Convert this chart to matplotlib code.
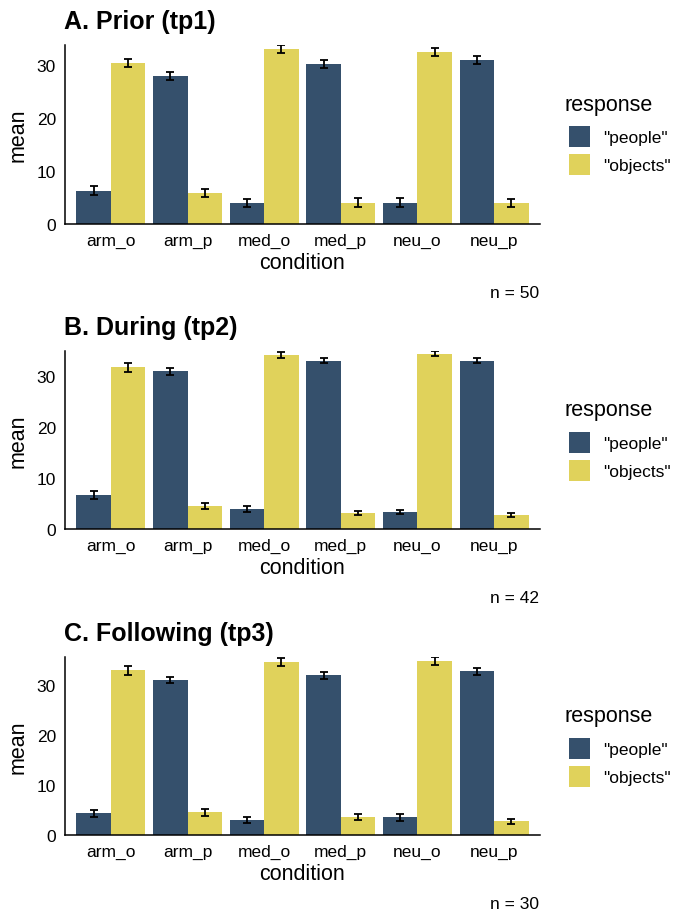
import matplotlib
matplotlib.use("Agg")
import matplotlib.pyplot as plt
from matplotlib.patches import Rectangle
import numpy as np

plt.rcParams['font.family'] = ['Liberation Sans', 'DejaVu Sans']

conditions = ["arm_o", "arm_p", "med_o", "med_p", "neu_o", "neu_p"]
responses = ['"people"', '"objects"']
colors = ["#35506C", "#E0D25B"]

titles = ["A. Prior (tp1)", "B. During (tp2)", "C. Following (tp3)"]
n_labels = ["n = 50", "n = 42", "n = 30"]

# tp1
tp1_people = [6.3, 28.0, 4.0, 30.2, 4.0, 31.0]
tp1_people_se = [0.9, 0.8, 0.8, 0.72, 0.85, 0.7]
tp1_objects = [30.4, 5.9, 33.1, 4.0, 32.5, 4.0]
tp1_objects_se = [0.75, 0.8, 0.72, 0.85, 0.72, 0.75]
# tp2
tp2_people = [6.6, 30.8, 3.9, 32.9, 3.3, 32.9]
tp2_people_se = [0.8, 0.7, 0.55, 0.5, 0.4, 0.45]
tp2_objects = [31.6, 4.5, 34.1, 3.1, 34.3, 2.7]
tp2_objects_se = [0.9, 0.5, 0.6, 0.4, 0.5, 0.4]
# tp3
tp3_people = [4.4, 31.0, 3.0, 32.0, 3.6, 32.8]
tp3_people_se = [0.7, 0.6, 0.65, 0.7, 0.7, 0.7]
tp3_objects = [33.0, 4.6, 34.6, 3.6, 34.8, 2.8]
tp3_objects_se = [0.9, 0.7, 0.8, 0.6, 0.8, 0.5]

panels = [
    (tp1_people, tp1_people_se, tp1_objects, tp1_objects_se),
    (tp2_people, tp2_people_se, tp2_objects, tp2_objects_se),
    (tp3_people, tp3_people_se, tp3_objects, tp3_objects_se),
]

W, H = 673, 912
fig = plt.figure(figsize=(W / 100, H / 100), dpi=100)

# axes boxes in pixels: (left, top, right, bottom)
boxes = [(65, 46, 540, 225), (65, 352, 540, 530), (65, 658, 540, 836)]

def fx(px):
    return px / W

def fy(py):
    return 1 - py / H

x = np.arange(1, len(conditions) + 1)
bw = 0.45

for i, (box, data) in enumerate(zip(boxes, panels)):
    l, t, r, b = box
    ax = fig.add_axes([fx(l), fy(b), fx(r) - fx(l), fy(t) - fy(b)])
    p, pse, o, ose = data
    ax.bar(x - bw / 2, p, width=bw, color=colors[0], label=responses[0], zorder=2)
    ax.bar(x + bw / 2, o, width=bw, color=colors[1], label=responses[1], zorder=2)
    ax.errorbar(x - bw / 2, p, yerr=pse, fmt="none", ecolor="black",
                elinewidth=1.3, capsize=2.8, capthick=1.3, zorder=3)
    ax.errorbar(x + bw / 2, o, yerr=ose, fmt="none", ecolor="black",
                elinewidth=1.3, capsize=2.8, capthick=1.3, zorder=3)
    ymax = max(max(np.array(p) + np.array(pse)), max(np.array(o) + np.array(ose)))
    ax.set_ylim(0, ymax)
    ax.set_xlim(0.4, 6.6)
    ax.set_xticks(x)
    ax.set_xticklabels(conditions)
    ax.set_yticks([0, 10, 20, 30])
    ax.tick_params(length=0, labelsize=12.5, colors="black")
    ax.tick_params(axis="x", pad=6.5)
    ax.tick_params(axis="y", pad=6.5)
    for s in ["top", "right"]:
        ax.spines[s].set_visible(False)
    for s in ["left", "bottom"]:
        ax.spines[s].set_linewidth(1.1)
        ax.spines[s].set_color("black")
    ax.set_xlabel("condition", fontsize=15.5, labelpad=3)
    ax.set_ylabel("mean", fontsize=15.5, labelpad=5.5)

    fig.text(fx(64), fy(t - 16.5), titles[i], fontsize=18, fontweight="bold",
             ha="left", va="baseline")
    fig.text(fx(539.5), fy(b + 73), n_labels[i], fontsize=12.5, ha="right",
             va="baseline")

    # legend (drawn in figure coordinates)
    fig.text(fx(565), fy(t + 64.5), "response", fontsize=15.5, ha="left",
             va="baseline")
    for k, (lab, col) in enumerate(zip(responses, colors)):
        ktop = t + 81 + k * 28
        fig.add_artist(Rectangle((fx(569), fy(ktop + 20.5)), fx(590) - fx(569),
                                 fy(ktop) - fy(ktop + 20.5), transform=fig.transFigure,
                                 facecolor=col, edgecolor="none"))
        fig.text(fx(603), fy(ktop + 10.5), lab, fontsize=12.5, ha="left",
                 va="center_baseline")

fig.savefig("out.png", dpi=100)
